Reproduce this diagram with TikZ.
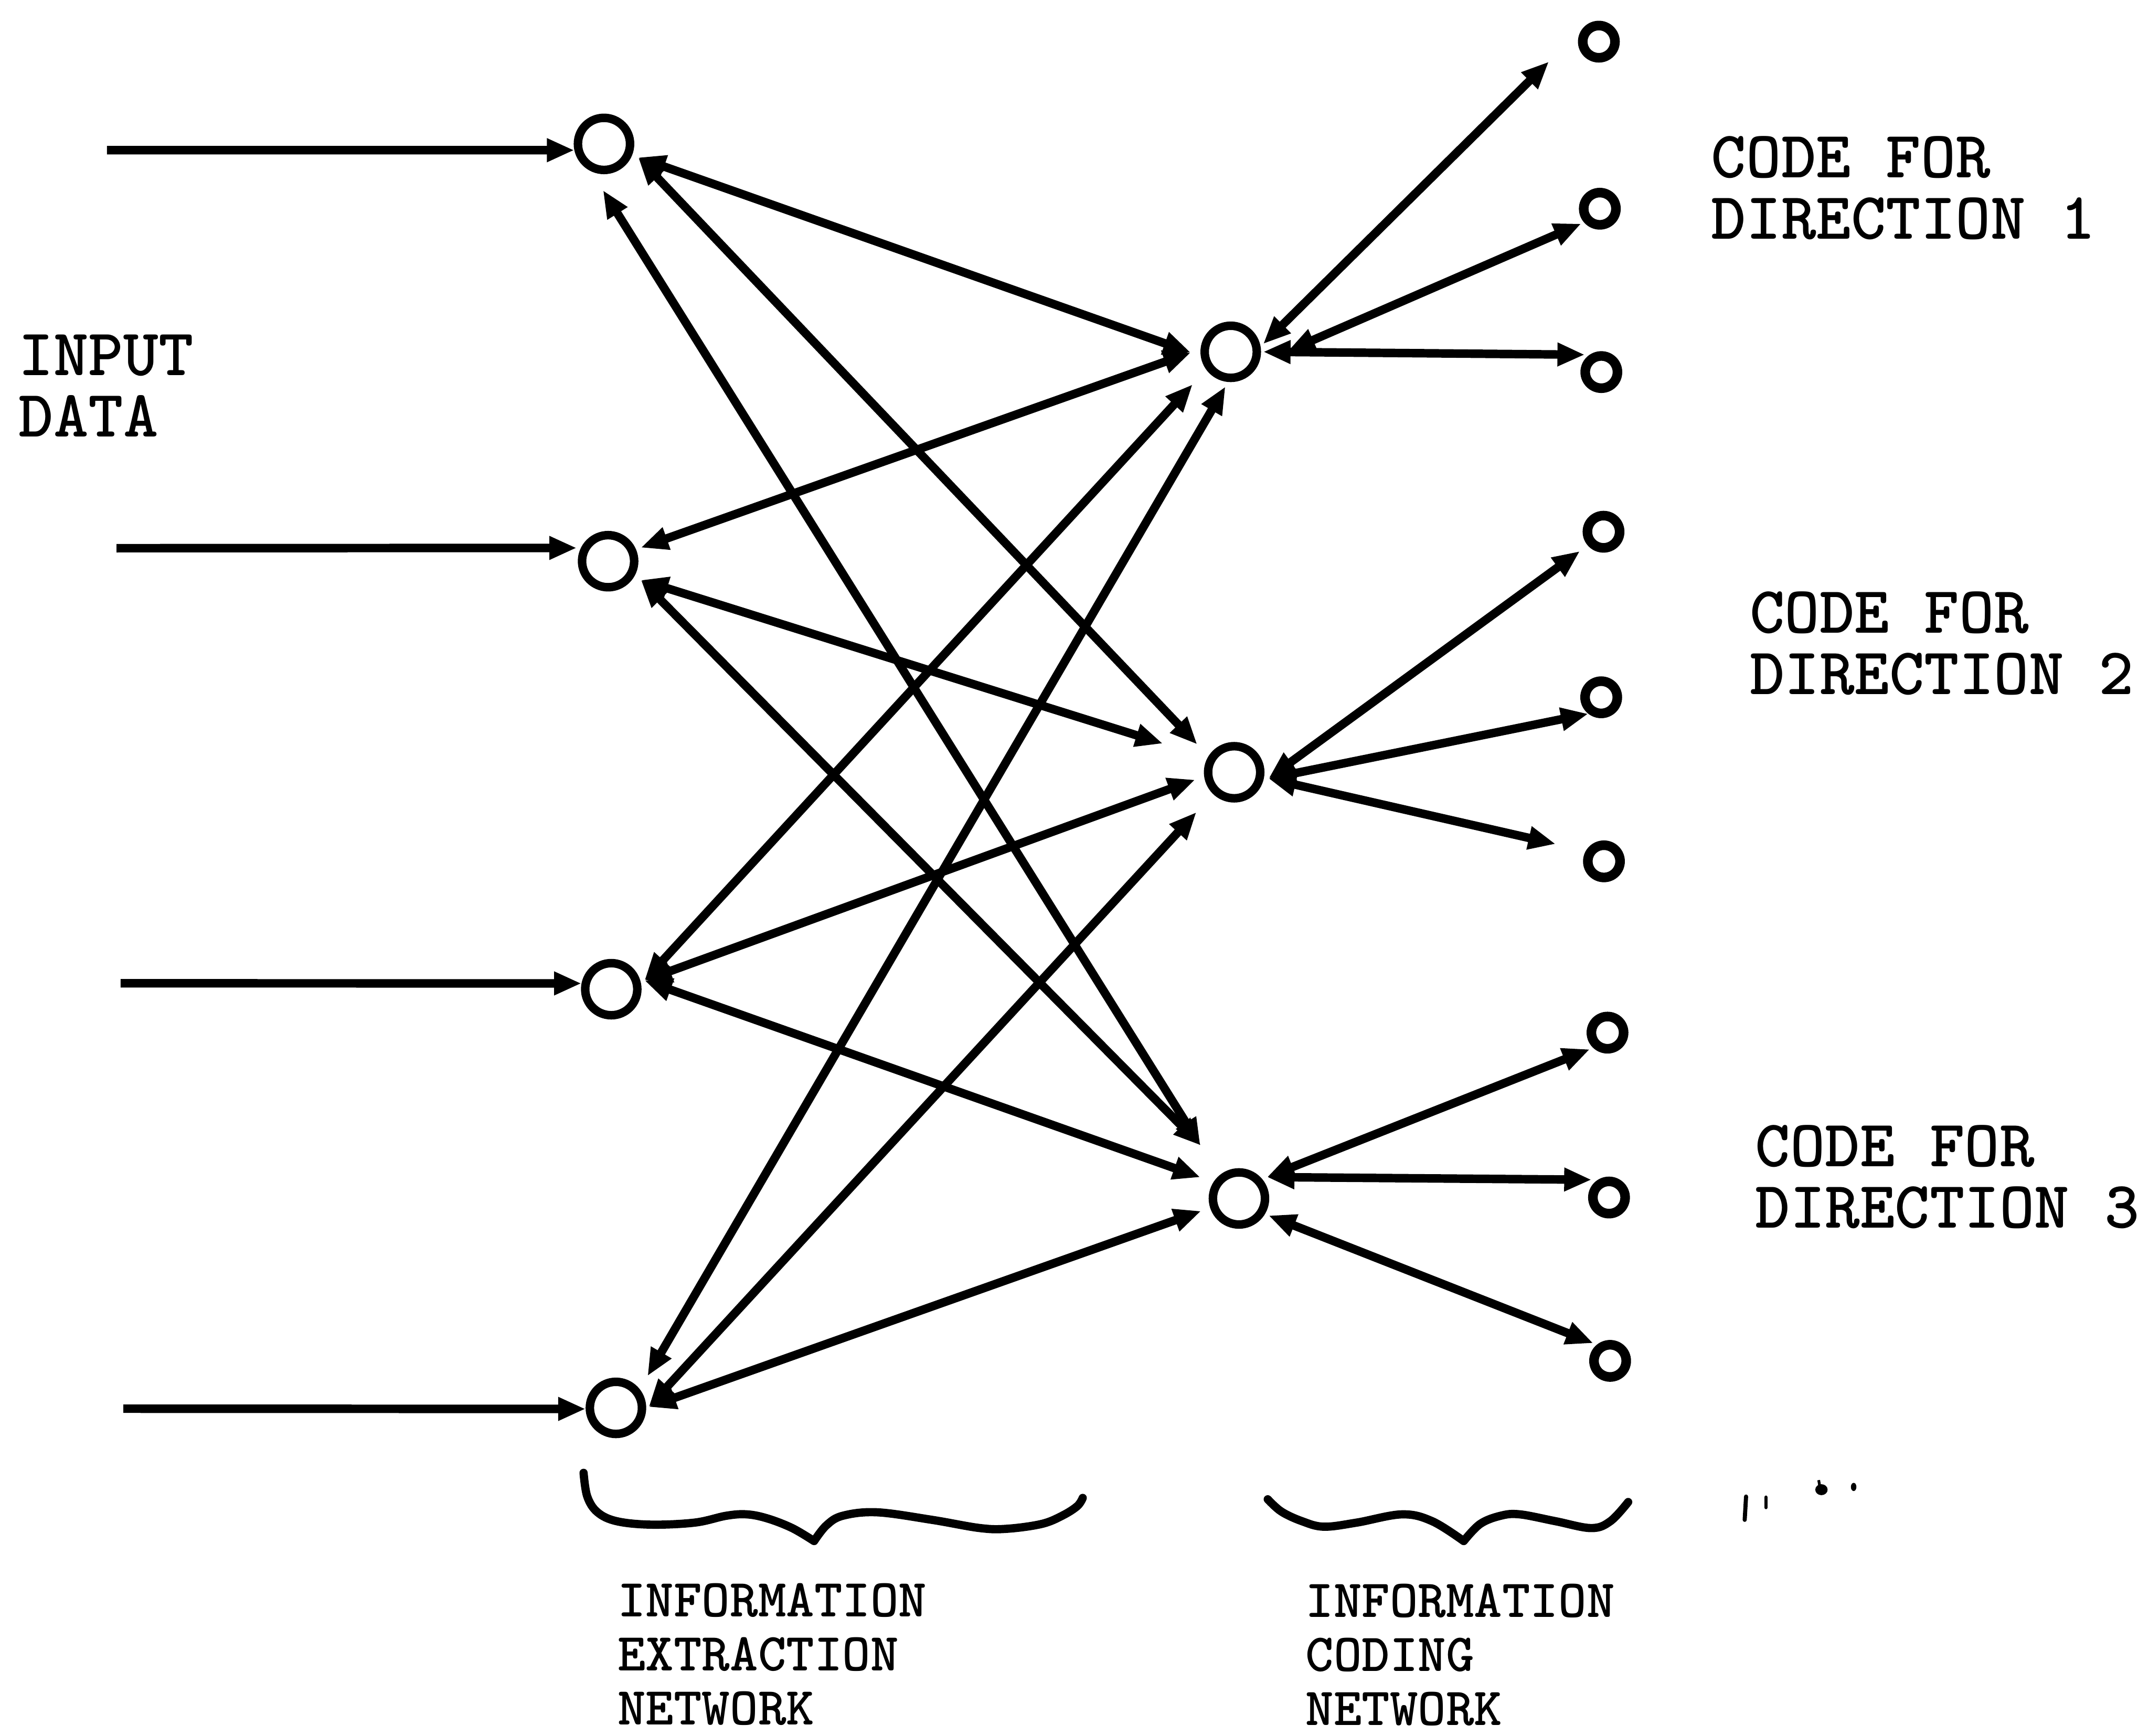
\documentclass[tikz,border=0pt]{standalone}
\usetikzlibrary{arrows.meta}
\begin{document}
\begin{tikzpicture}[
  x=0.01cm, y=-0.01cm,
  >={Triangle[length=0.2cm,width=0.16cm]},
  unit/.style={circle, draw, line width=0.062cm, minimum size=0.38cm, inner sep=0pt},
  codeunit/.style={circle, draw, line width=0.07cm, minimum size=0.235cm, inner sep=0pt},
  link/.style={line width=0.062cm, <->},
  feed/.style={line width=0.062cm, ->},
  bigtext/.style={font=\ttfamily\bfseries\fontsize{13.8}{12.75}\selectfont, inner sep=0pt, anchor=base west},
  smalltext/.style={font=\ttfamily\bfseries\fontsize{11.1}{11.2}\selectfont, inner sep=0pt, anchor=base west},
  bracestroke/.style={line width=0.06cm, line cap=round, line join=round},
]
\path[use as bounding box] (0,0) rectangle (1568,1266.5);

% extraction layer
\node[unit] (L1) at (440.7,105) {};
\node[unit] (L2) at (443.7,409.5) {};
\node[unit] (L3) at (446,721.8) {};
\node[unit] (L4) at (449.4,1027.3) {};

% coding layer
\node[unit] (M1) at (898,256.7) {};
\node[unit] (M2) at (900.5,563.5) {};
\node[unit] (M3) at (904,874.5) {};

% output code units
\node[codeunit] (R1) at (1166.6,30.4) {};
\node[codeunit] (R2) at (1167.3,152.3) {};
\node[codeunit] (R3) at (1168.4,271.5) {};
\node[codeunit] (R4) at (1170,388) {};
\node[codeunit] (R5) at (1168.3,508.8) {};
\node[codeunit] (R6) at (1170.3,628.5) {};
\node[codeunit] (R7) at (1172.9,753.5) {};
\node[codeunit] (R8) at (1174,873.8) {};
\node[codeunit] (R9) at (1174.8,993) {};

% input lines
\coordinate (in1) at (78,109.6);
\coordinate (in2) at (85,400);
\coordinate (in3) at (88,717.5);
\coordinate (in4) at (90,1027.9);
\draw[feed] (in1) -- (L1.192);
\draw[feed, shorten >=0.03cm] (in2) -- (L2.154);
\draw[feed] (in3) -- (L3.169);
\draw[feed] (in4) -- (L4.182);

% extraction <-> coding
\draw[link, shorten <=0.047cm, shorten >=0.077cm] (L1.-22) -- (M1.188);
\draw[link, shorten <=0.053cm, shorten >=0.118cm] (L1.-16) -- (M2.148);
\draw[link, shorten <=0.162cm, shorten >=0.256cm] (L1.-115) -- (M3.131);
\draw[link, shorten <=0.037cm, shorten >=0.075cm] (L2.23) -- (M1.175);
\draw[link, shorten <=0.056cm, shorten >=0.342cm] (L2.-33) -- (M2.151);
\draw[link, shorten <=0.057cm, shorten >=0.261cm] (L2.-26) -- (M3.115);
\draw[link, shorten <=0.036cm, shorten >=0.146cm] (L3.10) -- (M1.216);
\draw[link, shorten <=0.029cm, shorten >=0.069cm] (L3.14) -- (M2.188);
\draw[link, shorten <=0.037cm, shorten >=0.102cm] (L3.20) -- (M3.147);
\draw[link, shorten <=0.111cm, shorten >=0.038cm] (L4.38) -- (M1.-95);
\draw[link, shorten <=0.027cm, shorten >=0.179cm] (L4.-3) -- (M2.-134);
\draw[link, shorten <=0.019cm, shorten >=0.069cm] (L4.0) -- (M3.198);

% coding <-> code units
\draw[link, shorten <=0.026cm, shorten >=0.36cm] (M1.10) -- (R1.135);
\draw[link, shorten <=0.232cm, shorten >=0.022cm] (M1.-23) -- (R2.-139);
\draw[link, shorten <=0.015cm, shorten >=0.035cm] (M1.0) -- (R3.124);
\draw[link, shorten <=0.054cm, shorten >=0.07cm] (M2.-20) -- (R4.-139);
\draw[link, shorten <=0.037cm] (M2.-14) -- (R5.-128);
\draw[link, shorten <=0.034cm, shorten >=0.225cm] (M2.-10) -- (R6.150);
\draw[link, shorten <=0.038cm, shorten >=0.026cm] (M3.40) -- (R7.-133);
\draw[link, shorten <=0.048cm, shorten >=0.046cm] (M3.45) -- (R8.122);
\draw[link, shorten <=0.028cm, shorten >=0.028cm] (M3.-31) -- (R9.129);

% labels
\node[bigtext] (inlabel) at (13,273.8) {\begin{tabular}[t]{@{}l@{}}INPUT\\DATA\end{tabular}};
\node[bigtext] (code1) at (1248,129.5) {\begin{tabular}[t]{@{}l@{}}CODE FOR\\DIRECTION 1\end{tabular}};
\node[bigtext] (code2) at (1276,462) {\begin{tabular}[t]{@{}l@{}}CODE FOR\\DIRECTION 2\end{tabular}};
\node[bigtext] (code3) at (1280,851) {\begin{tabular}[t]{@{}l@{}}CODE FOR\\DIRECTION 3\end{tabular}};
\node[smalltext] (extr) at (450,1179.6) {\begin{tabular}[t]{@{}l@{}}INFORMATION\\EXTRACTION\\NETWORK\end{tabular}};
\node[smalltext] (codn) at (952,1180) {\begin{tabular}[t]{@{}l@{}}INFORMATION\\CODING\\NETWORK\end{tabular}};

% braces under the two networks
\draw[bracestroke]
  plot[smooth, tension=0.6] coordinates {(425.8,1074.7) (428.5,1092) (436,1103.5) (450,1110) (475,1112.5) (507,1111) (530,1106) (545,1105) (560,1108) (578,1115) (594,1124.5)}
  -- plot[smooth, tension=0.6] coordinates {(594,1124.5) (603,1113) (615,1106) (640,1103.5) (680,1109) (715,1115) (735,1115.5) (760,1112) (775,1106) (786,1099) (790,1093)};
\draw[bracestroke]
  plot[smooth, tension=0.6] coordinates {(925,1094) (935,1103) (950,1110) (966,1114) (990,1111) (1023,1105) (1045,1110) (1068,1124.5)}
  -- plot[smooth, tension=0.6] coordinates {(1068,1124.5) (1080,1112) (1095,1106) (1109,1105) (1135,1110) (1161,1115) (1175,1110) (1188,1096)};

% small specks
\draw[line width=0.03cm, line cap=round] (1274,1092) -- (1273,1109);
\draw[line width=0.025cm, line cap=round] (1288.5,1092.5) -- (1288.5,1100);
\fill (1329,1087) ellipse [x radius=4.5, y radius=4];
\draw[line width=0.02cm] (1327,1080) -- (1328,1086);
\fill (1352.5,1085) ellipse [x radius=2, y radius=3];
\end{tikzpicture}
\end{document}
